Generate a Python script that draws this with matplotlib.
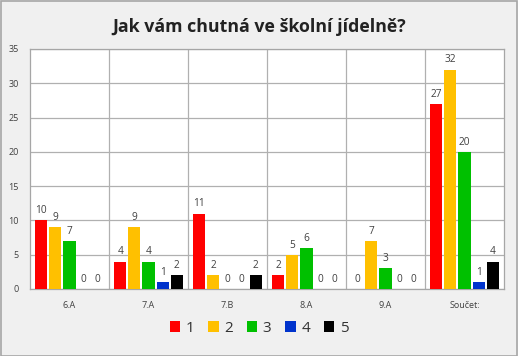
import matplotlib
matplotlib.use("Agg")
import matplotlib.pyplot as plt
import numpy as np
from matplotlib.patches import Rectangle

categories = ["6.A", "7.A", "7.B", "8.A", "9.A", "Součet:"]
series_names = ["1", "2", "3", "4", "5"]
s1 = [10, 4, 11, 2, 0, 27]
s2 = [9, 9, 2, 5, 7, 32]
s3 = [7, 4, 0, 6, 3, 20]
s4 = [0, 1, 0, 0, 0, 1]
s5 = [0, 2, 2, 0, 0, 4]
series = [s1, s2, s3, s4, s5]
colors = ["#ff0000", "#ffc000", "#00c000", "#0033cc", "#000000"]

plt.rcParams['font.family'] = ['Open Sans', 'DejaVu Sans']

fig = plt.figure(figsize=(5.18, 3.56), dpi=100)
fig.patch.set_facecolor("#f0f0f0")
fig.patches.append(Rectangle((0.001, 0.001), 0.997, 0.997, transform=fig.transFigure,
                             fill=False, edgecolor="#a6a6a6", linewidth=1.2))

ax = fig.add_axes([30/518, 67/356, 474/518, 240/356])
ax.set_facecolor("white")

n = len(categories)
x = np.arange(n)
bw = 0.152
pitch = 0.178
for i, (vals, c) in enumerate(zip(series, colors)):
    off = (i - 2) * pitch
    ax.bar(x + off, vals, width=bw, color=c, label=series_names[i], zorder=3)
    for xi, v in zip(x + off, vals):
        ax.text(xi, v + 0.6, str(v), ha="center", va="bottom", fontsize=7.3,
                color="#404040", zorder=4)

ax.set_xlim(-0.5, n - 0.5)
ax.set_ylim(0, 35)
ax.set_yticks(range(0, 36, 5))
ax.set_xticks(x)
ax.set_xticklabels(categories)
ax.tick_params(axis="both", length=0, labelsize=6.5, colors="#404040")
ax.tick_params(axis="y", pad=8)
ax.tick_params(axis="x", pad=9)
ax.grid(axis="y", color="#b0b0b0", linewidth=0.9, zorder=0)
for b in np.arange(0.5, n - 0.5, 1):
    ax.axvline(b, color="#b0b0b0", linewidth=0.9, zorder=0)
for s in ax.spines.values():
    s.set_color("#a6a6a6")
    s.set_linewidth(0.9)

fig.text(0.5, 0.925, "Jak vám chutná ve školní jídelně?", ha="center", va="center",
         fontsize=12.8, fontweight="bold", color="#222222")

leg = fig.legend(loc="center", bbox_to_anchor=(0.5, 0.078), ncol=5, frameon=False,
                 fontsize=11, handlelength=0.7, handleheight=0.7, handletextpad=0.35,
                 columnspacing=0.9, labelcolor="#333333")

fig.savefig("out.png", dpi=100, facecolor=fig.get_facecolor())
